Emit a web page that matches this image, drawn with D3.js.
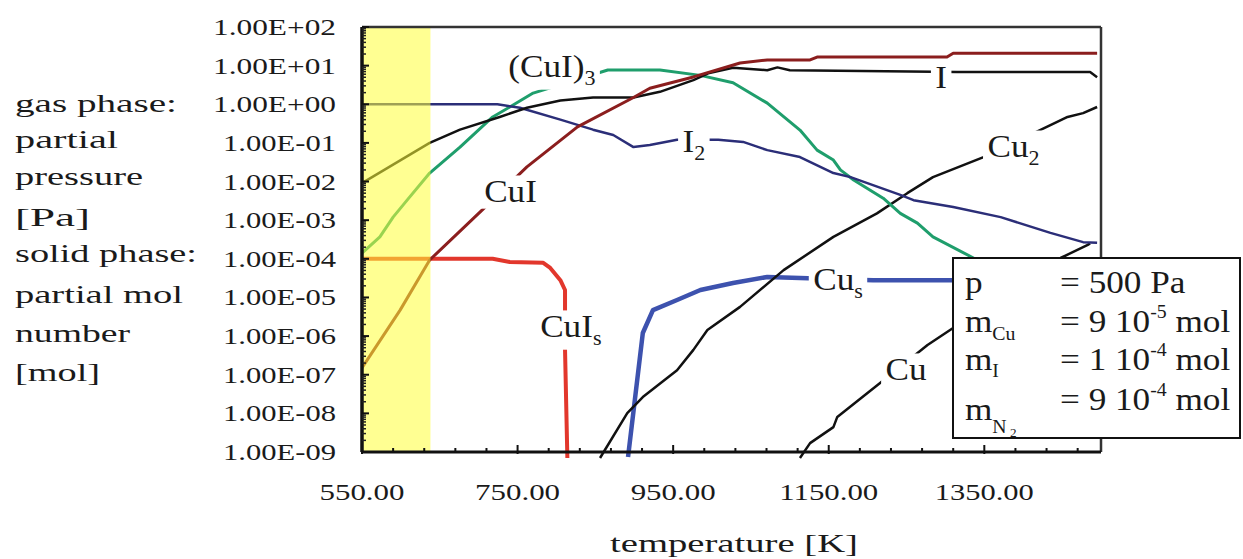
<!DOCTYPE html>
<html>
<head>
<meta charset="utf-8">
<script src="https://cdn.jsdelivr.net/npm/d3@7"></script>
<style>
    body { margin: 0; background: #fff; }
    svg text { font-family: "Liberation Serif", "Times New Roman", Times, serif; fill: #1a1a1a; }
</style>
</head>
<body>
<div id="chart"></div>
<script>
// Temperature [K] / value pairs (gas: Pa, solid: mol)
const seriesI = [[550, 9.1e-3], [637, 0.10], [676, 0.22], [727, 0.47], [762, 0.81], [805, 1.25], [847, 1.5], [899, 1.5], [933, 2.1], [976, 4.2], [995, 6.3], [1027, 8.8], [1071, 7.6], [1084, 9.0], [1100, 7.6], [1315, 6.8], [1486, 6.8], [1495, 5.0]];
const seriesCuI = [[550, 1.5e-7], [599, 4.7e-6], [637, 9.3e-5], [704, 1.8e-3], [762, 0.024], [827, 0.26], [899, 1.5], [920, 2.6], [976, 5.1], [1036, 11.7], [1071, 14], [1126, 14], [1135, 16.7], [1302, 16.7], [1310, 21], [1495, 21]];
const seriesCuI3 = [[550, 1.4e-4], [573, 3.7e-4], [590, 1.2e-3], [608, 3.3e-3], [637, 0.0166], [676, 0.078], [718, 0.47], [740, 0.85], [770, 1.95], [866, 7.7], [933, 7.7], [985, 5.6], [1027, 3.6], [1071, 1.07], [1113, 0.215], [1135, 0.065], [1156, 0.036], [1165, 0.020], [1182, 0.011], [1220, 3.7e-3], [1242, 1.5e-3], [1264, 8.4e-4], [1284, 3.7e-4], [1336, 1.05e-4], [1358, 3.8e-5]];
const seriesI2 = [[550, 1.0], [724, 1.0], [753, 0.81], [805, 0.40], [847, 0.22], [873, 0.16], [899, 0.078], [920, 0.088], [955, 0.12], [1008, 0.12], [1040, 0.106], [1071, 0.065], [1113, 0.043], [1156, 0.0166], [1178, 0.013], [1242, 4.5e-3], [1259, 3.3e-3], [1310, 2.2e-3], [1371, 1.2e-3], [1435, 4.7e-4], [1477, 2.7e-4], [1495, 2.6e-4]];
const seriesCuS = [[892, 7.4e-10], [911, 1.2e-6], [924, 4.7e-6], [955, 8.6e-6], [985, 1.56e-5], [1027, 2.37e-5], [1071, 3.4e-5], [1113, 3.2e-5], [1207, 2.8e-5], [1306, 2.8e-5], [1326, 2.8e-5]];
const seriesCuIS = [[550, 1.0e-4], [718, 1.0e-4], [740, 8.3e-5], [783, 7.9e-5], [792, 5.8e-5], [805, 2.8e-5], [811, 1.56e-5], [811, 7.2e-6], [811, 4.4e-7], [814, 7e-10]];
const seriesCu2 = [[856, 7e-10], [891, 1.02e-8], [911, 2.65e-8], [955, 1.3e-7], [976, 4.4e-7], [994, 1.44e-6], [1036, 5.7e-6], [1092, 5.1e-5], [1156, 3.7e-4], [1212, 1.5e-3], [1251, 5.0e-3], [1284, 0.013], [1349, 0.043], [1441, 0.33], [1457, 0.47], [1477, 0.59], [1495, 0.85]];
const seriesCu = [[1113, 7e-10], [1126, 1.7e-9], [1156, 4.4e-9], [1161, 8.1e-9], [1216, 6.1e-8], [1277, 5.9e-7], [1306, 1.44e-6], [1448, 1.05e-4], [1483, 2.3e-4], [1486, 2.5e-4]];

// Axis values
const temperatureLabels = [550, 750, 950, 1150, 1350];
const decadeTicks = [1e2, 1e1, 1e0, 1e-1, 1e-2, 1e-3, 1e-4, 1e-5, 1e-6, 1e-7, 1e-8, 1e-9];
const leftTitleLines = ['gas phase:', 'partial', 'pressure', '[Pa]', 'solid phase:', 'partial mol', 'number', '[mol]'];

// Curve labels, anchored at (temperature, value)
const curveLabels = [
    { parts: ['(CuI)', '3'], at: [738, 5.1] },
    { parts: ['I'], at: [1287, 2.63] },
    { parts: ['I', '2'], at: [962, 0.058] },
    { parts: ['Cu', '2'], at: [1354, 0.043] },
    { parts: ['CuI'], at: [707, 2.95e-3] },
    { parts: ['Cu', 's'], at: [1130, 1.56e-5] },
    { parts: ['CuI', 's'], at: [779, 9.5e-7] },
    { parts: ['Cu'], at: [1223, 7.3e-8] }
];

const W = 1243, H = 559;
const plot = { left: 362, right: 1101, top: 27, bottom: 452 };
const serif = '"Liberation Serif", "Times New Roman", Times, serif';

const svg = d3.select('#chart').append('svg')
    .attr('width', W)
    .attr('height', H)
    .attr('font-family', serif);

const x = d3.scaleLinear().domain([550, 1500]).range([plot.left, plot.right]);
const y = d3.scaleLog().domain([1e-9, 1e2]).range([plot.bottom, plot.top]);

// Text helper: a group at (px,py), stretched by sx, main text plus a subscript part
function richText(parent, px, py, parts, size, sx, subSize, subDy) {
    const g = parent.append('g').attr('transform', `translate(${px},${py}) scale(${sx},1)`);
    const t = g.append('text').attr('font-size', size).attr('font-family', serif);
    parts.forEach((p, i) => {
        if (i === 0) {
            t.append('tspan').text(p);
        } else {
            t.append('tspan').attr('font-size', subSize).attr('dy', subDy).text(p);
        }
    });
    return g;
}

// Curves
const line = d3.line().x(d => x(d[0])).y(d => y(d[1]));
const series = [
    { data: seriesCuIS, color: '#e2372c', width: 4 },
    { data: seriesCuS, color: '#3d52ae', width: 4.5 },
    { data: seriesCu, color: '#111', width: 2.5 },
    { data: seriesCu2, color: '#111', width: 2.5 },
    { data: seriesCuI3, color: '#1f9e6c', width: 3 },
    { data: seriesI2, color: '#2b2e78', width: 2.5 },
    { data: seriesI, color: '#111', width: 2.5 },
    { data: seriesCuI, color: '#8b1e1e', width: 3 }
];
svg.append('g')
    .selectAll('path')
    .data(series)
    .enter()
    .append('path')
    .attr('d', d => line(d.data))
    .attr('fill', 'none')
    .attr('stroke', d => d.color)
    .attr('stroke-width', d => d.width)
    .attr('stroke-linejoin', 'round');

// Yellow band laid over the low temperature part
svg.append('rect')
    .attr('x', x(550))
    .attr('y', plot.top)
    .attr('width', x(638) - x(550))
    .attr('height', plot.bottom - plot.top)
    .attr('fill', '#ffff38')
    .attr('opacity', 0.55);

// Frame
const frame = svg.append('g');
frame.append('line').attr('x1', plot.left).attr('x2', plot.right).attr('y1', plot.top).attr('y2', plot.top)
    .attr('stroke', '#333').attr('stroke-width', 2.5);
frame.append('line').attr('x1', plot.right).attr('x2', plot.right).attr('y1', plot.top).attr('y2', plot.bottom)
    .attr('stroke', '#333').attr('stroke-width', 2.5);
frame.append('line').attr('x1', plot.left).attr('x2', plot.right).attr('y1', plot.bottom).attr('y2', plot.bottom)
    .attr('stroke', '#111').attr('stroke-width', 3);
frame.append('line').attr('x1', plot.left).attr('x2', plot.left).attr('y1', plot.top).attr('y2', plot.bottom)
    .attr('stroke', '#111').attr('stroke-width', 3.5);

// X ticks: minor every 40 K, larger at labels
d3.range(550, 1500, 40).forEach(t => {
    const major = temperatureLabels.includes(t);
    frame.append('line')
        .attr('x1', x(t)).attr('x2', x(t))
        .attr('y1', plot.bottom + (major ? 2 : 1))
        .attr('y2', plot.bottom - (major ? 7 : 4))
        .attr('stroke', '#111').attr('stroke-width', 2);
});

// Y ticks: decades plus minor log ticks
decadeTicks.forEach(v => {
    frame.append('line')
        .attr('x1', plot.left).attr('x2', plot.left + 7)
        .attr('y1', y(v)).attr('y2', y(v))
        .attr('stroke', '#111').attr('stroke-width', 2);
    if (v < 1e2) {
        d3.range(2, 10).forEach(m => {
            frame.append('line')
                .attr('x1', plot.left).attr('x2', plot.left + 4)
                .attr('y1', y(v * m)).attr('y2', y(v * m))
                .attr('stroke', '#222').attr('stroke-width', 1.5);
        });
    }
});

// Y tick labels
const fmtExp = v => {
    const e = Math.round(Math.log10(v));
    return '1.00E' + (e < 0 ? '-' : '+') + String(Math.abs(e)).padStart(2, '0');
};
decadeTicks.forEach(v => {
    const txt = fmtExp(v);
    const len = txt.includes('+') ? 123 : 113;
    svg.append('text')
        .attr('x', 336 - len)
        .attr('y', y(v) + 8)
        .attr('font-size', 23)
        .attr('textLength', len)
        .attr('lengthAdjust', 'spacingAndGlyphs')
        .text(txt);
});

// X tick labels
temperatureLabels.forEach(t => {
    const txt = t.toFixed(2);
    const len = txt.length > 6 ? 99 : 85;
    svg.append('text')
        .attr('x', x(t) - len / 2)
        .attr('y', 500)
        .attr('font-size', 24)
        .attr('textLength', len)
        .attr('lengthAdjust', 'spacingAndGlyphs')
        .text(txt);
});

svg.append('text')
    .attr('x', 610)
    .attr('y', 552)
    .attr('font-size', 26)
    .attr('textLength', 248)
    .attr('lengthAdjust', 'spacingAndGlyphs')
    .text('temperature  [K]');

// Left title block
const titleBaselines = [112, 148, 185, 226, 262, 303, 342, 381];
const titleWidths = [162, 103, 128, 75, 182, 168, 115, 85];
leftTitleLines.forEach((s, i) => {
    svg.append('text')
        .attr('x', 15)
        .attr('y', titleBaselines[i])
        .attr('font-size', 26)
        .attr('textLength', titleWidths[i])
        .attr('lengthAdjust', 'spacingAndGlyphs')
        .text(s);
});

// Curve labels with white backing
const labelLayer = svg.append('g');
curveLabels.forEach(lb => {
    const g = richText(labelLayer, x(lb.at[0]), y(lb.at[1]), lb.parts, 32, 1.1, 20, 8);
    const bb = g.select('text').node().getBBox();
    g.insert('rect', 'text')
        .attr('x', bb.x - 4)
        .attr('y', bb.y + 2)
        .attr('width', bb.width + 8)
        .attr('height', bb.height - 2)
        .attr('fill', '#fff');
});

// Conditions box
const legend = svg.append('g');
legend.append('rect')
    .attr('x', 953).attr('y', 258)
    .attr('width', 287).attr('height', 180)
    .attr('fill', '#fff')
    .attr('stroke', '#111')
    .attr('stroke-width', 2);

richText(legend, 965, 293, ['p'], 32, 1.1, 18, 8);
richText(legend, 965, 332, ['m', 'Cu'], 32, 1.1, 18, 8);
richText(legend, 965, 370, ['m', 'I'], 32, 1.1, 18, 7);
richText(legend, 965, 420, ['m', 'N'], 32, 1.1, 18, 13)
    .select('text')
    .append('tspan')
    .attr('font-size', 12)
    .attr('dy', 4)
    .text(' 2');

function valueText(py, mant, exp) {
    const g = legend.append('g').attr('transform', `translate(1060,${py}) scale(1.1,1)`);
    const t = g.append('text').attr('font-size', 32).attr('font-family', serif);
    t.append('tspan').text(`= ${mant} 10`);
    t.append('tspan').attr('font-size', 18).attr('dy', -14).text(exp);
    t.append('tspan').attr('dy', 14).text(' mol');
}
richText(legend, 1060, 293, ['= 500 Pa'], 32, 1.1, 18, 8);
valueText(332, '9', '-5');
valueText(370, '1', '-4');
valueText(410, '9', '-4');
</script>
</body>
</html>
